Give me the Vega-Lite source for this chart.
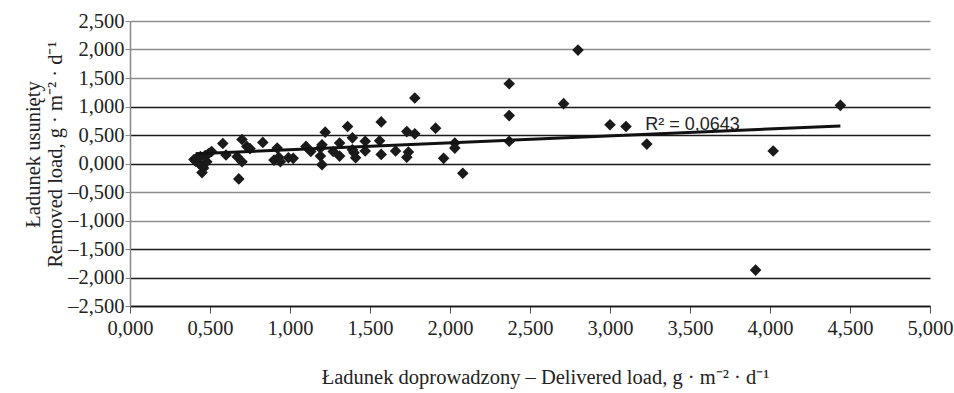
{
  "$schema": "https://vega.github.io/schema/vega-lite/v6.json",
  "width": 800,
  "height": 285,
  "autosize": "none",
  "padding": {"left": 130, "top": 21, "right": 24, "bottom": 87},
  "background": "white",
  "config": {"view": {"stroke": null}},
  "datasets": {
    "points": [
      {"delivered": 0.40, "removed": 0.07},
      {"delivered": 0.41, "removed": 0.04},
      {"delivered": 0.42, "removed": 0.10},
      {"delivered": 0.43, "removed": 0.00},
      {"delivered": 0.44, "removed": 0.12},
      {"delivered": 0.45, "removed": -0.16},
      {"delivered": 0.46, "removed": -0.08},
      {"delivered": 0.47, "removed": 0.14},
      {"delivered": 0.48, "removed": 0.03},
      {"delivered": 0.49, "removed": 0.17},
      {"delivered": 0.51, "removed": 0.21},
      {"delivered": 0.58, "removed": 0.35},
      {"delivered": 0.60, "removed": 0.15},
      {"delivered": 0.67, "removed": 0.12},
      {"delivered": 0.68, "removed": -0.27},
      {"delivered": 0.70, "removed": 0.42},
      {"delivered": 0.70, "removed": 0.03},
      {"delivered": 0.73, "removed": 0.30},
      {"delivered": 0.75, "removed": 0.26},
      {"delivered": 0.83, "removed": 0.37},
      {"delivered": 0.90, "removed": 0.06},
      {"delivered": 0.92, "removed": 0.27},
      {"delivered": 0.93, "removed": 0.11},
      {"delivered": 0.94, "removed": 0.03},
      {"delivered": 0.99, "removed": 0.10},
      {"delivered": 1.02, "removed": 0.09},
      {"delivered": 1.10, "removed": 0.30},
      {"delivered": 1.13, "removed": 0.21},
      {"delivered": 1.19, "removed": 0.27},
      {"delivered": 1.19, "removed": 0.13},
      {"delivered": 1.20, "removed": -0.02},
      {"delivered": 1.20, "removed": 0.33},
      {"delivered": 1.22, "removed": 0.55},
      {"delivered": 1.27, "removed": 0.21},
      {"delivered": 1.31, "removed": 0.36},
      {"delivered": 1.31, "removed": 0.13},
      {"delivered": 1.36, "removed": 0.65},
      {"delivered": 1.39, "removed": 0.45},
      {"delivered": 1.39, "removed": 0.24},
      {"delivered": 1.40, "removed": 0.19},
      {"delivered": 1.41, "removed": 0.10},
      {"delivered": 1.47, "removed": 0.39},
      {"delivered": 1.47, "removed": 0.22},
      {"delivered": 1.57, "removed": 0.73},
      {"delivered": 1.56, "removed": 0.40},
      {"delivered": 1.57, "removed": 0.16},
      {"delivered": 1.66, "removed": 0.22},
      {"delivered": 1.73, "removed": 0.56},
      {"delivered": 1.74, "removed": 0.20},
      {"delivered": 1.73, "removed": 0.11},
      {"delivered": 1.78, "removed": 0.52},
      {"delivered": 1.78, "removed": 1.15},
      {"delivered": 1.91, "removed": 0.62},
      {"delivered": 1.96, "removed": 0.09},
      {"delivered": 2.03, "removed": 0.36},
      {"delivered": 2.03, "removed": 0.27},
      {"delivered": 2.08, "removed": -0.17},
      {"delivered": 2.37, "removed": 1.40},
      {"delivered": 2.37, "removed": 0.84},
      {"delivered": 2.37, "removed": 0.39},
      {"delivered": 2.71, "removed": 1.05},
      {"delivered": 2.80, "removed": 1.99},
      {"delivered": 3.00, "removed": 0.68},
      {"delivered": 3.10, "removed": 0.65},
      {"delivered": 3.23, "removed": 0.34},
      {"delivered": 3.91, "removed": -1.87},
      {"delivered": 4.02, "removed": 0.22},
      {"delivered": 4.44, "removed": 1.02}
    ],
    "trend": [
      {"delivered": 0.41, "removed": 0.17},
      {"delivered": 4.44, "removed": 0.66}
    ],
    "label": [
      {"delivered": 3.22, "removed": 0.59, "text": "R² = 0,0643"}
    ]
  },
  "encoding": {
    "x": {
      "field": "delivered",
      "type": "quantitative",
      "scale": {"domain": [0, 5], "nice": false, "zero": false},
      "axis": {
        "title": "Ładunek doprowadzony – Delivered load, g · m⁻² · d⁻¹",
        "titleFont": "Liberation Serif",
        "titleFontSize": 20.5,
        "titleFontWeight": "normal",
        "titleColor": "#222",
        "titlePadding": 29,
        "titleX": 415,
        "values": [0, 0.5, 1, 1.5, 2, 2.5, 3, 3.5, 4, 4.5, 5],
        "labelExpr": "replace(replace(format(datum.value, '.3f'), '.', ','), '−', '–')",
        "labelFont": "Liberation Serif",
        "labelFontSize": 20.5,
        "labelColor": "#222",
        "labelPadding": 5,
        "labelFlush": false,
        "labelOverlap": false,
        "tickSize": 7,
        "tickColor": "#555",
        "tickWidth": 1,
        "domainColor": "#111",
        "domainWidth": 1.5,
        "grid": false
      }
    },
    "y": {
      "field": "removed",
      "type": "quantitative",
      "scale": {"domain": [-2.5, 2.5], "nice": false, "zero": false},
      "axis": {
        "title": ["Ładunek usunięty", "Removed load, g · m⁻² · d⁻¹"],
        "titleFont": "Liberation Serif",
        "titleFontSize": 20.5,
        "titleFontWeight": "normal",
        "titleColor": "#222",
        "titleLineHeight": 22,
        "titlePadding": 2,
        "titleY": 133,
        "values": [-2.5, -2, -1.5, -1, -0.5, 0, 0.5, 1, 1.5, 2, 2.5],
        "labelExpr": "replace(replace(format(datum.value, '.3f'), '.', ','), '−', '–')",
        "labelFont": "Liberation Serif",
        "labelFontSize": 20.5,
        "labelColor": "#222",
        "labelPadding": 1,
        "labelFlush": false,
        "labelOverlap": false,
        "tickSize": 5,
        "tickColor": "#888",
        "domainColor": "#888",
        "domainWidth": 1.5,
        "grid": true,
        "gridWidth": 1.3,
        "gridColor": {
          "condition": {"test": "(datum.value > -0.1 && datum.value < 1.1) || datum.value < -1.4", "value": "#1a1a1a"},
          "value": "#8c8c8c"
        }
      }
    }
  },
  "layer": [
    {
      "data": {"name": "points"},
      "mark": {"type": "point", "shape": "diamond", "filled": true, "size": 135, "color": "#1a1a1a", "opacity": 1, "strokeWidth": 0}
    },
    {
      "data": {"name": "trend"},
      "mark": {"type": "line", "color": "#111", "strokeWidth": 3}
    },
    {
      "data": {"name": "label"},
      "mark": {"type": "text", "align": "left", "baseline": "alphabetic", "font": "Liberation Sans", "fontSize": 18, "color": "#222"},
      "encoding": {"text": {"field": "text"}}
    }
  ]
}
